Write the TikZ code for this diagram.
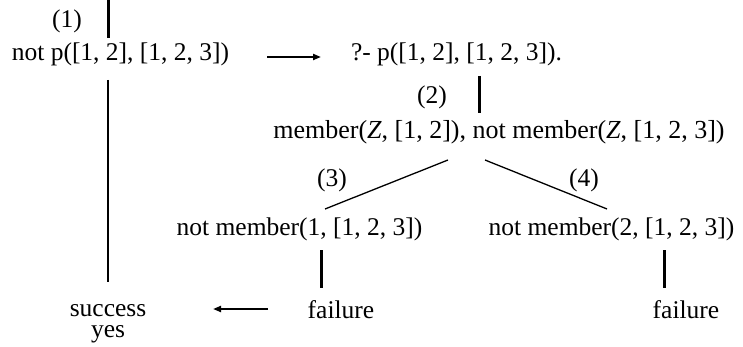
\documentclass[tikz,border=0pt]{standalone}
\usepackage{fontspec}
\setmainfont{Liberation Serif}
\usetikzlibrary{arrows.meta}
\begin{document}
\begin{tikzpicture}[x=1pt,y=-1pt,
  lbl/.style={inner sep=0pt,anchor=base,font=\fontsize{25.5}{28}\selectfont},
  thickline/.style={line width=3pt},
  longline/.style={line width=2pt},
  branch/.style={line width=1.3pt},
  arr/.style={line width=2pt,-{Triangle[length=8pt,width=6pt]}}]
\useasboundingbox (0,0) rectangle (743,347);
% row 1
\node[lbl] (n1) at (67,28) {(1)};
\coordinate (l1a) at (108,0);
\coordinate (l1b) at (108,38);
\draw[thickline] (l1a) -- (l1b);
\node[lbl] (notp) at (120.5,61) {not p([1, 2], [1, 2, 3])};
\coordinate (a1s) at (267,57);
\coordinate (a1e) at (321,57);
\draw[arr] (a1s) -- (a1e);
\node[lbl] (query) at (456.5,61) {?- p([1, 2], [1, 2, 3]).};
% long line
\coordinate (l0a) at (108,80);
\coordinate (l0b) at (108,282);
\draw[longline] (l0a) -- (l0b);
% (2)
\node[lbl] (n2) at (432,104) {(2)};
\coordinate (l2a) at (479,76);
\coordinate (l2b) at (479,113);
\draw[thickline] (l2a) -- (l2b);
\node[lbl,font=\fontsize{26}{28}\selectfont] (mem) at (499,139) {member(\textit{Z}, [1, 2]), not member(\textit{Z}, [1, 2, 3])};
% branches
\coordinate (b3a) at (448,160);
\coordinate (b3b) at (325,209);
\coordinate (b4a) at (485,160);
\coordinate (b4b) at (607,209);
\draw[branch] (b3a) -- (b3b);
\draw[branch] (b4a) -- (b4b);
\node[lbl] (n3) at (332,187) {(3)};
\node[lbl] (n4) at (584,187) {(4)};
\node[lbl] (nm1) at (299.5,235) {not member(1, [1, 2, 3])};
\node[lbl] (nm2) at (611.5,235) {not member(2, [1, 2, 3])};
\coordinate (l5a) at (321,250);
\coordinate (l5b) at (321,288);
\draw[thickline] (l5a) -- (l5b);
\coordinate (l6a) at (664,250);
\coordinate (l6b) at (664,288);
\draw[thickline] (l6a) -- (l6b);
% bottom
\node[lbl] (succ) at (108,316) {success};
\node[lbl] (yes) at (108,337) {yes};
\node[lbl] (fail1) at (341,318) {failure};
\node[lbl] (fail2) at (686,318) {failure};
\coordinate (a2s) at (268,309);
\coordinate (a2e) at (213,309);
\draw[arr] (a2s) -- (a2e);
\end{tikzpicture}
\end{document}
